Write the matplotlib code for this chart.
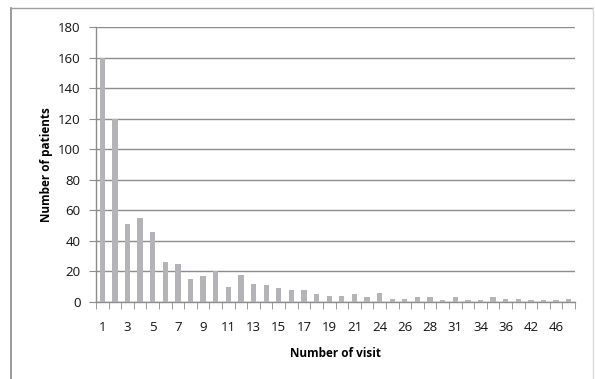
import numpy as np
import matplotlib.pyplot as plt
from matplotlib.lines import Line2D

# number of visits (category labels) and number of patients
visitas = ['1', '2', '3', '4', '5', '6', '7', '8', '9', '10',
           '11', '12', '13', '14', '15', '16', '17', '18', '19', '20',
           '21', '22', '24', '25', '26', '27', '28', '30', '31', '33',
           '34', '35', '36', '38', '42', '44', '46', '48']
pacientes = [160, 120, 51, 55, 46, 26, 25, 15, 17, 20,
             10, 18, 12, 11, 9, 8, 8, 5, 4, 4,
             5, 3, 6, 2, 2, 3, 3, 1, 3, 1,
             1, 3, 2, 2, 1, 1, 1, 2]

plt.rcParams['font.family'] = ['Open Sans', 'DejaVu Sans']

W, H = 595, 379
fig = plt.figure(figsize=(W / 100, H / 100), dpi=100)
ax = fig.add_axes([96 / W, 1 - 302 / H, (575 - 96) / W, (302 - 27) / H])

x = np.arange(len(visitas))
ax.bar(x, pacientes, width=0.42, color='#b4b4b8', zorder=3)

ax.set_xlim(-0.5, len(visitas) - 0.5)
ax.set_ylim(0, 180)
ax.set_yticks(np.arange(0, 181, 20))
ax.set_xticks(x[::2])
ax.set_xticklabels(visitas[::2])
ax.set_xticks(np.arange(-0.5, len(visitas), 1), minor=True)

ax.grid(axis='y', color='#8c8c8c', linewidth=1.0, zorder=0)
for s in ['top', 'right']:
    ax.spines[s].set_visible(False)
for s in ['left', 'bottom']:
    ax.spines[s].set_color('#8c8c8c')
    ax.spines[s].set_linewidth(1.0)

ax.tick_params(axis='y', length=5, color='#8c8c8c', labelsize=9.5, pad=6, labelcolor='#111111')
ax.tick_params(axis='x', which='major', length=0, labelsize=9.5, pad=14, labelcolor='#111111')
ax.tick_params(axis='x', which='minor', length=5, color='#8c8c8c')

ax.set_ylabel('Number of patients', fontsize=8.5, fontweight='bold', labelpad=4)
ax.set_xlabel('Number of visit', fontsize=8.5, fontweight='bold', labelpad=9)

# chart frame
fig.add_artist(Line2D([11 / W, 11 / W], [0, 1 - 8 / H], transform=fig.transFigure, color='#8a8a8a', lw=1.2))
fig.add_artist(Line2D([11 / W, 593 / W], [1 - 8 / H, 1 - 8 / H], transform=fig.transFigure, color='#a0a0a0', lw=1.0))
fig.add_artist(Line2D([593 / W, 593 / W], [0, 1 - 8 / H], transform=fig.transFigure, color='#d8d8d8', lw=1.0))

fig.savefig('out.png', dpi=100)
